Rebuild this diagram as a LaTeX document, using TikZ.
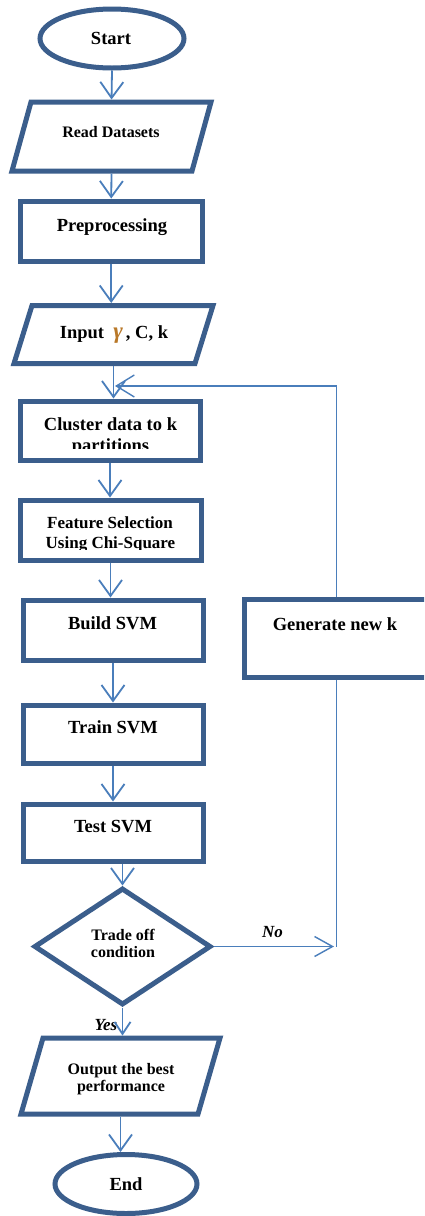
\documentclass[tikz,border=0pt]{standalone}
\usepackage{fontspec}
\setmainfont{Liberation Serif}
\usetikzlibrary{arrows.meta,shapes.geometric}

\definecolor{shapeblue}{RGB}{59,94,140}
\definecolor{flowblue}{RGB}{74,126,187}
\definecolor{gammaorange}{RGB}{185,120,40}

\newcommand\fsmain{\fontsize{18.5}{22}\selectfont\bfseries}
\newcommand\fsmid{\fontsize{17}{20}\selectfont\bfseries}
\newcommand\fssmall{\fontsize{16}{19}\selectfont\bfseries}

% parallelogram drawn on the frame of a named node: #1 node, #2 half slant
\newcommand\iooutline[2]{%
  \draw[outline,line join=miter]
    ([xshift=#2]#1.north west) -- ([xshift=#2]#1.north east)
    -- ([xshift=-#2]#1.south east) -- ([xshift=-#2]#1.south west) -- cycle;}

\begin{document}
\begin{tikzpicture}[x=1pt,y=-1pt,
  outline/.style={draw=shapeblue,line width=5pt,inner sep=0pt,fill=white},
  procbox/.style={outline,rectangle},
  ioframe/.style={rectangle,inner sep=0pt,outer sep=0pt},
  terminal/.style={outline,ellipse},
  decision/.style={outline,diamond},
  txt/.style={anchor=base,inner sep=0pt,font=\fsmain},
  smalltxt/.style={txt,font=\fssmall},
  branchtxt/.style={anchor=base,inner sep=0pt,font=\fsmid\itshape},
  flow/.style={draw=flowblue,line width=1.8pt,-{Straight Barb[length=16pt,width=23pt]}},
  shortflow/.style={draw=flowblue,line width=1.8pt,-{Straight Barb[length=12pt,width=16pt]}},
  backline/.style={draw=flowblue,line width=1.4pt},
  backtip/.style={-{Straight Barb[length=18pt,width=22pt]}}
]
\useasboundingbox (0,0) rectangle (424,1216);
\clip (0,0) rectangle (424,1216);
\fill[white] (0,0) rectangle (424,1216);

% ---- shapes of the main column ----
\node[terminal,minimum width=144pt,minimum height=59pt] (start) at (112,38.5) {};
\node[ioframe,minimum width=180pt,minimum height=69pt] (read) at (111.5,136.5) {};
\iooutline{read}{9.5pt}
\node[procbox,minimum width=181.5pt,minimum height=60.5pt] (prep) at (111.25,231.25) {};
\node[ioframe,minimum width=181pt,minimum height=58pt] (input) at (113.5,334.5) {};
\iooutline{input}{9pt}
\node[procbox,minimum width=180pt,minimum height=59pt] (clus) at (110,430.5) {};
\node[procbox,minimum width=181pt,minimum height=60pt] (feat) at (110.5,530) {};
\node[procbox,minimum width=180pt,minimum height=60pt] (build) at (113,630) {};
\node[procbox,minimum width=180pt,minimum height=58pt] (train) at (113,734) {};
\node[procbox,minimum width=180pt,minimum height=57pt] (test) at (113,832.5) {};
\node[decision,minimum width=177pt,minimum height=117pt] (dia) at (122.5,946.5) {};
\node[ioframe,minimum width=177pt,minimum height=76pt] (out) at (120.5,1076) {};
\iooutline{out}{11pt}
\node[terminal,minimum width=142pt,minimum height=59pt] (stop) at (126,1184) {};

% ---- side box of the loop ----
\node[procbox,minimum width=215.5pt,minimum height=78pt] (gen) at (352.25,638.5) {};

% ---- texts ----
\node[txt] (t-start) at (111,44) {Start};
\node[smalltxt] (t-read) at (111,137) {Read Datasets};
\node[txt] (t-prep) at (112,231) {Preprocessing};
\node[txt] (t-input) at (114,338) {Input\ \ \textcolor{gammaorange}{\fontsize{23}{23}\selectfont\itshape γ}\,, C, k};
\node[txt] (t-clus1) at (110.5,430) {Cluster data to k};
\begin{scope}
  \clip (20,432) rectangle (200,448);
  \node[txt] (t-clus2) at (110.5,451) {partitions};
\end{scope}
\node[txt,font=\fsmid] (t-feat1) at (110,528) {Feature Selection};
\begin{scope}
  \clip (20,530) rectangle (200,549);
  \node[txt,font=\fsmid] (t-feat2) at (110.5,548) {Using Chi-Square};
\end{scope}
\node[txt] (t-build) at (112.5,629) {Build SVM};
\node[txt] (t-train) at (113,733) {Train SVM};
\node[txt] (t-test) at (113,832) {Test SVM};
\node[txt] (t-gen) at (335,630) {Generate new k};
\node[smalltxt] (t-dia1) at (123,940) {Trade off};
\node[smalltxt] (t-dia2) at (123,957) {condition};
\node[smalltxt] (t-out1) at (121,1074) {Output the best};
\node[smalltxt] (t-out2) at (121,1091) {performance};
\node[txt] (t-stop) at (126,1190) {End};
\node[branchtxt] (t-no) at (272.5,937) {No};
\node[branchtxt] (t-yes) at (106,1030) {Yes};

% ---- main flow ----
\draw[flow,shorten >=2.5pt] (start.south) -- (read.north);
\draw[flow,shorten <=2.5pt] (read.south) -- (prep.north);
\draw[flow,shorten >=2.5pt] (prep.south) -- (prep.south |- input.north);
\draw[flow,shorten <=2.5pt] (input.south) -- (input.south |- clus.north);
\draw[flow] (clus.south) -- (clus.south |- feat.north);
\draw[flow] (feat.south) -- (feat.south |- build.north);
\draw[flow] (build.south) -- (train.north);
\draw[flow] (train.south) -- (test.north);
\draw[flow] (test.south -| dia.north) -- (dia.north);
\draw[shortflow,shorten >=2.5pt] (dia.south) -- (dia.south |- out.north);
\draw[flow,shorten <=2.5pt] (out.south) -- (out.south |- stop.north);

% ---- loop back through "Generate new k" ----
\coordinate (notip) at (334,946.5);
\coordinate (nojoin) at (336.5,946.5);
\coordinate (fbend) at (336.5,386);
\coordinate (fbtip) at (115,386);
\draw[backline,-{Straight Barb[length=18pt,width=20pt]}] (dia.east) -- (notip);
\draw[backline] (nojoin) -- (gen.south -| nojoin);
\draw[backline,backtip] (gen.north -| nojoin) -- (fbend) -- (fbtip);
\end{tikzpicture}
\end{document}
